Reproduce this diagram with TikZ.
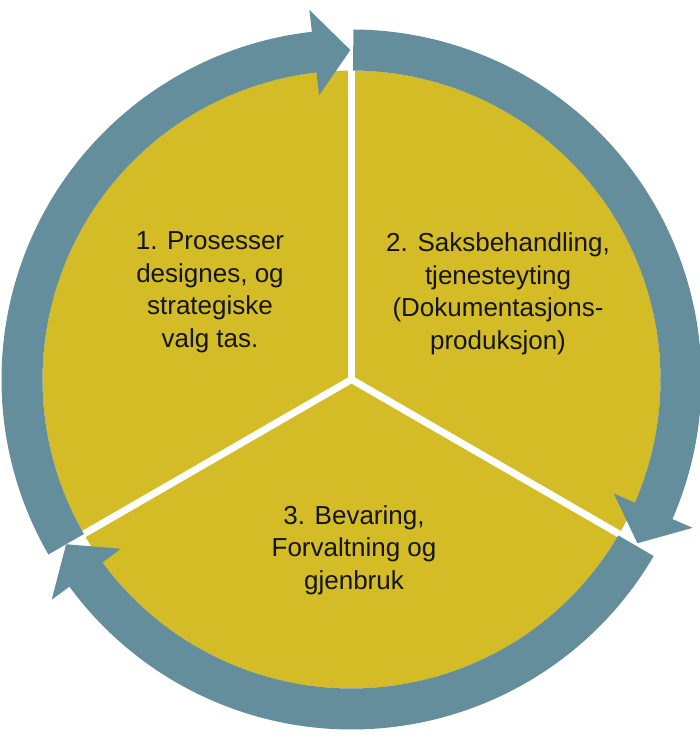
\documentclass[tikz,border=0pt]{standalone}
\usepackage{fontspec}
\setmainfont{Liberation Sans}
\definecolor{diskc}{RGB}{212,188,38}
\definecolor{ringc}{RGB}{100,142,155}
\definecolor{textc}{RGB}{20,20,20}
\tikzset{
  lbl/.style={align=center, inner sep=0pt, text=textc, font=\fontsize{26pt}{32.5pt}\selectfont},
  divider/.style={draw=white, line width=7pt},
}
\newcommand{\ringarrow}[2]{%
  % #1 = start angle (tail), #2 = tip angle (clockwise)
  \pgfmathsetmacro{\hb}{#2+6.3}%
  \fill[ringc] ([shift={(C)}]#1:350pt) arc[start angle=#1, end angle=\hb, radius=350pt]
    -- ([shift={(C)}]\hb:372pt) -- ([shift={(C)}]#2:329.5pt) -- ([shift={(C)}]\hb:286pt)
    -- ([shift={(C)}]\hb:309pt) arc[start angle=\hb, end angle=#1, radius=309pt] -- cycle;
}
\begin{document}
\begin{tikzpicture}
\useasboundingbox (0pt,0pt) rectangle (700pt,742pt);
\coordinate (C) at (351.5pt,362.5pt);
\fill[diskc] (C) circle[radius=309pt];
\draw[divider] (C) -- ([shift={(C)}]90:312pt);
\draw[divider] (C) -- ([shift={(C)}]-30:312pt);
\draw[divider] (C) -- ([shift={(C)}]210:312pt);
\ringarrow{210}{90.2}
\ringarrow{89.7}{-29.8}
\ringarrow{-30.3}{-150}
\node[lbl] (t1) at (210pt,449.5pt) {1. Prosesser\\designes, og\\strategiske\\valg tas.};
\node[lbl] (t2) at (498pt,448pt) {2. Saksbehandling,\\tjenesteyting\\(Dokumentasjons-\\produksjon)};
\node[lbl] (t3) at (354pt,192pt) {3. Bevaring,\\Forvaltning og\\gjenbruk};
\end{tikzpicture}
\end{document}
